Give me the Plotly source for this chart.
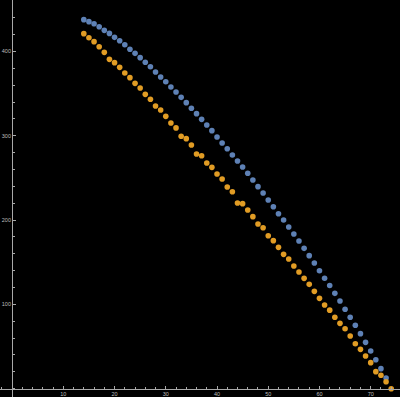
import plotly.graph_objects as go

# data
blue_x = list(range(14, 74))
blue_y = [437.8, 435.4, 433.0, 429.4, 425.1, 421.5, 416.8, 412.8, 408.1, 402.6,
          397.8, 392.7, 387.2, 382.0, 375.7, 369.8, 364.2, 357.9, 352.0, 345.6,
          339.3, 332.6, 326.3, 319.5, 312.8, 306.1, 298.6, 291.5, 284.7, 277.2,
          270.1, 263.0, 255.5, 247.6, 239.7, 232.1, 223.8, 215.9, 207.6, 200.1,
          191.8, 183.5, 175.2, 166.5, 157.8, 149.1, 140.0, 131.1, 122.4, 113.1,
          104.0, 94.2, 84.7, 75.2, 65.3, 55.0, 44.7, 34.4, 23.8, 12.7]

orange_x = list(range(14, 75))
orange_y = [421.2, 416.4, 411.7, 405.7, 399.0, 390.7, 386.8, 381.2, 374.5, 369.0,
            362.2, 356.7, 349.2, 343.3, 335.4, 330.6, 323.1, 315.2, 309.4, 299.4,
            296.6, 289.1, 278.4, 276.4, 267.7, 262.6, 254.7, 248.8, 239.3, 233.7,
            220.3, 219.5, 212.0, 204.1, 195.4, 191.0, 181.5, 175.6, 167.7, 159.4,
            153.9, 145.6, 138.4, 130.9, 123.8, 115.5, 107.2, 99.3, 93.2, 84.7,
            77.5, 71.2, 62.5, 53.4, 46.7, 38.8, 30.9, 20.2, 15.9, 8.3, 0.0]

x_ticks = [10, 20, 30, 40, 50, 60, 70]
y_ticks = [100, 200, 300, 400]

BLUE = "#5E81B5"
ORANGE = "#E19C24"

x_range = [-2.36, 75.72]
y_range = [-9.85, 461.1]

fig = go.Figure()
fig.add_trace(go.Scatter(x=blue_x, y=blue_y, mode="markers",
                         marker=dict(color=BLUE, size=5.6, line=dict(width=0)),
                         showlegend=False))
fig.add_trace(go.Scatter(x=orange_x, y=orange_y, mode="markers",
                         marker=dict(color=ORANGE, size=5.6, line=dict(width=0)),
                         showlegend=False))

axis_color = "#a8a8a8"
label_font = dict(family="Liberation Sans", size=5.5, color="#bdbdbd")

fig.update_layout(template="none")
fig.update_layout(
    width=400, height=397,
    margin=dict(l=0, r=0, t=0, b=0, pad=0),
    paper_bgcolor="black", plot_bgcolor="black",
    xaxis=dict(
        range=x_range, anchor="free",
        position=(0 - y_range[0]) / (y_range[1] - y_range[0]),
        tickvals=x_ticks, ticktext=[str(v) for v in x_ticks],
        showgrid=False, zeroline=False, showline=True, linecolor=axis_color, linewidth=1,
        ticks="inside", ticklen=2.5, tickwidth=1, tickcolor=axis_color,
        minor=dict(dtick=2, tick0=0, ticks="inside", ticklen=1.5, tickcolor=axis_color, showgrid=False),
        tickfont=label_font, automargin=False,
    ),
    yaxis=dict(
        range=y_range, anchor="free",
        position=(0 - x_range[0]) / (x_range[1] - x_range[0]),
        tickvals=y_ticks, ticktext=[str(v) for v in y_ticks],
        showgrid=False, zeroline=False, showline=True, linecolor=axis_color, linewidth=1,
        ticks="inside", ticklen=2.5, tickwidth=1, tickcolor=axis_color,
        minor=dict(dtick=20, tick0=0, ticks="inside", ticklen=1.5, tickcolor=axis_color, showgrid=False),
        tickfont=label_font, automargin=False,
    ),
)

fig.write_html("out.html", config={"displayModeBar": False},
               post_script="document.body.style.margin='0';document.body.style.background='black';")
